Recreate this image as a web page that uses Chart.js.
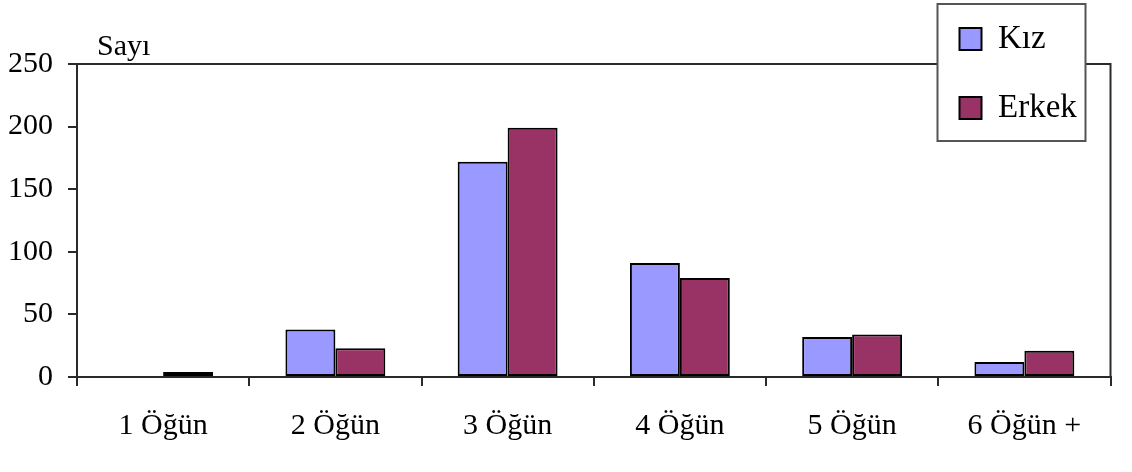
<!DOCTYPE html>
<html>
<head>
<meta charset="utf-8">
<script src="https://cdn.jsdelivr.net/npm/chart.js@4"></script>
<style>
  body { margin: 0; background: #fff; }
  #wrap { width: 1132px; height: 472px; position: relative; }
</style>
</head>
<body>
<div id="wrap"><canvas id="meals-chart"></canvas></div>
<script>
const categories = ["1 Öğün", "2 Öğün", "3 Öğün", "4 Öğün", "5 Öğün", "6 Öğün +"]
const kizValues = [0, 38, 172, 91, 32, 12]
const erkekValues = [4, 23, 199, 79, 34, 21]
const yTicks = [0, 50, 100, 150, 200, 250]
const yTitle = "Sayı"

const FONT = "'Liberation Serif', 'Times New Roman', serif"
const AXIS = "#2a2a2a"

// legend frame sits over the top-right corner of the plot box
function legendFrame(ca) {
  const right = ca.right - 25
  return { x: right - 148, y: 4, w: 148, h: 137 }
}

const framePlugin = {
  id: "frame",
  afterLayout(chart) {
    const lg = chart.legend
    const pad = lg.options.labels.padding
    const f = legendFrame(chart.chartArea)
    lg.left = f.x + 22 - pad
    lg.top = f.y + 24 - 5.5 - pad
    lg.right = f.x + f.w
    lg.bottom = chart.height
    lg.width = lg.right - lg.left
    lg.height = lg.bottom - lg.top
  },
  beforeDraw(chart) {
    const ctx = chart.ctx
    const ca = chart.chartArea
    ctx.save()
    ctx.strokeStyle = AXIS
    ctx.lineWidth = 2
    ctx.strokeRect(ca.left, ca.top, ca.right - ca.left, ca.bottom - ca.top)

    const f = legendFrame(ca)
    ctx.fillStyle = "#fff"
    ctx.fillRect(f.x, f.y, f.w, f.h)
    ctx.strokeStyle = "#555"
    ctx.strokeRect(f.x, f.y, f.w, f.h)

    ctx.fillStyle = "#000"
    ctx.font = "30px " + FONT
    ctx.textBaseline = "alphabetic"
    ctx.textAlign = "left"
    ctx.fillText(yTitle, ca.left + 20, ca.top - 9)
    ctx.restore()
  },
}

new Chart(document.getElementById("meals-chart"), {
  type: "bar",
  data: {
    labels: categories,
    datasets: [
      {
        label: "Kız",
        data: kizValues,
        backgroundColor: "#9999ff",
        borderColor: "#000",
        borderWidth: 2,
        borderSkipped: false,
      },
      {
        label: "Erkek",
        data: erkekValues,
        backgroundColor: "#993366",
        borderColor: "#000",
        borderWidth: 2,
        borderSkipped: false,
      },
    ],
  },
  options: {
    responsive: true,
    maintainAspectRatio: false,
    animation: false,
    layout: {
      padding: { left: 0, top: 64, right: 21.5, bottom: 0 },
    },
    datasets: {
      bar: { categoryPercentage: 0.58, barPercentage: 1 },
    },
    plugins: {
      tooltip: { enabled: false },
      legend: {
        position: "chartArea",
        align: "start",
        labels: {
          color: "#000",
          font: { family: FONT, size: 33 },
          boxWidth: 22,
          boxHeight: 22,
          padding: 36,
        },
      },
    },
    scales: {
      x: {
        grid: {
          drawOnChartArea: false,
          drawTicks: true,
          tickLength: 9,
          color: AXIS,
          lineWidth: 2,
        },
        border: { color: AXIS, width: 2 },
        ticks: {
          color: "#000",
          font: { family: FONT, size: 30 },
          padding: 22,
          maxRotation: 0,
        },
        afterFit: (scale) => {
          scale.height = 95
        },
      },
      y: {
        min: 0,
        max: 250,
        grid: {
          drawOnChartArea: false,
          drawTicks: true,
          tickLength: 9,
          color: AXIS,
          lineWidth: 2,
        },
        border: { color: AXIS, width: 2 },
        ticks: {
          color: "#000",
          font: { family: FONT, size: 30 },
          padding: 15,
        },
        afterBuildTicks: (scale) => {
          scale.ticks = yTicks.map((v) => ({ value: v }))
        },
        afterFit: (scale) => {
          scale.width = 77
        },
      },
    },
  },
  plugins: [framePlugin],
})
</script>
</body>
</html>
